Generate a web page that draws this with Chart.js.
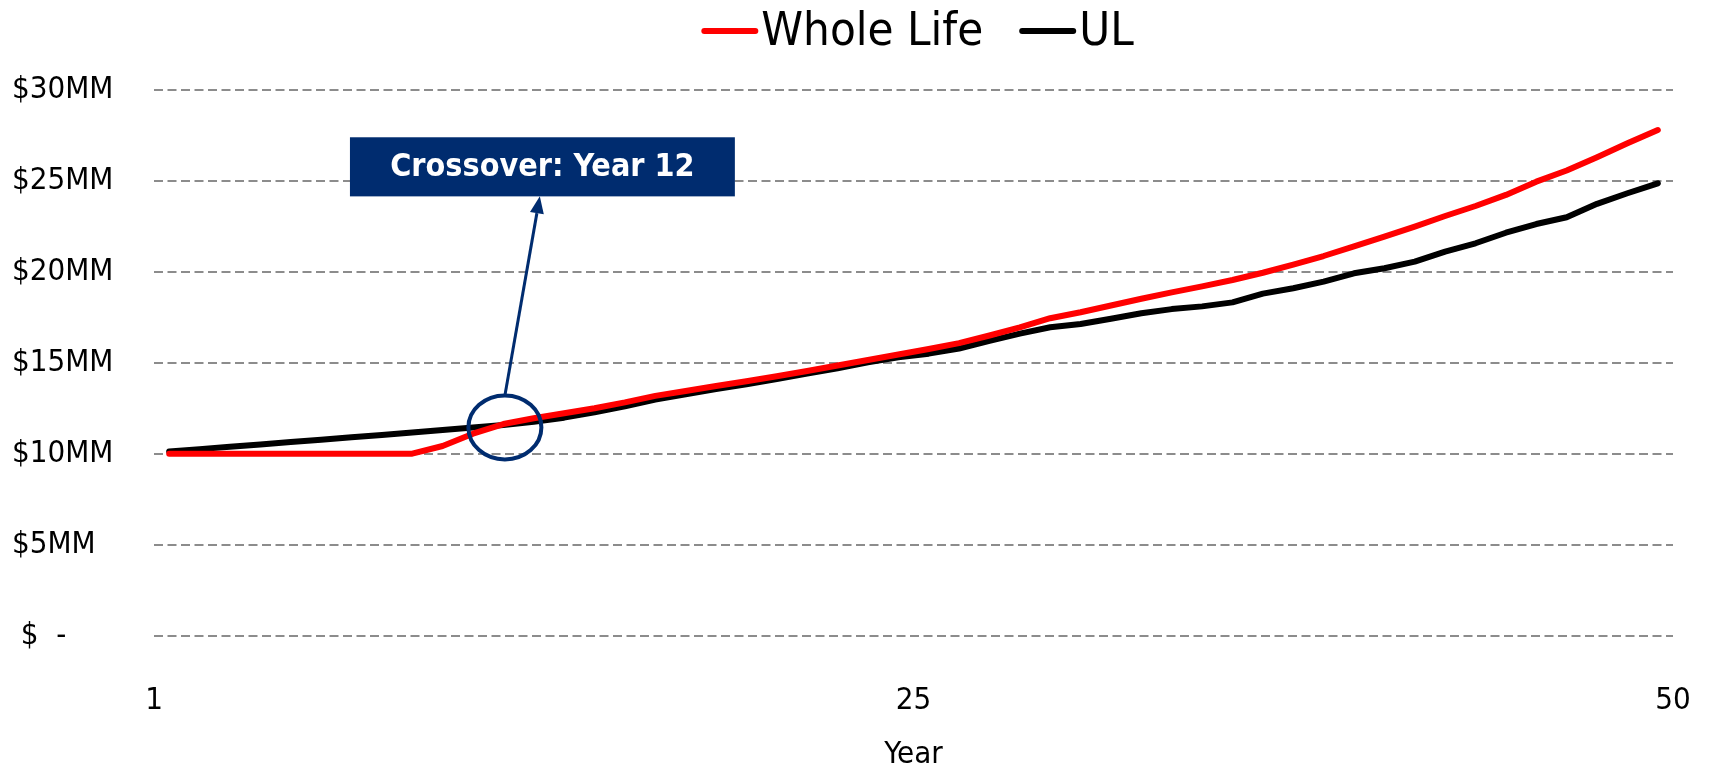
<!DOCTYPE html>
<html>
<head>
<meta charset="utf-8">
<title>Whole Life vs UL</title>
<script src="https://cdn.jsdelivr.net/npm/chart.js@4.4.1/dist/chart.umd.min.js"></script>
<style>
  html, body { margin: 0; padding: 0; background: #fff; }
  #wrap { width: 1712px; height: 769px; }
</style>
</head>
<body>
<div id="wrap"><canvas id="chartDeathBenefit"></canvas></div>
<script>
/* Beneficio por muerte: Whole Life vs UL, en millones */
const years = [1, 2, 3, 4, 5, 6, 7, 8, 9, 10,
  11, 12, 13, 14, 15, 16, 17, 18, 19, 20,
  21, 22, 23, 24, 25, 26, 27, 28, 29, 30,
  31, 32, 33, 34, 35, 36, 37, 38, 39, 40,
  41, 42, 43, 44, 45, 46, 47, 48, 49, 50];

const wholeLife = [10.0, 10.0, 10.0, 10.0, 10.0, 10.0, 10.0, 10.0, 10.0, 10.42,
  11.1, 11.63, 11.95, 12.22, 12.5, 12.82, 13.18, 13.45, 13.72, 13.98,
  14.26, 14.55, 14.85, 15.15, 15.45, 15.76, 16.08, 16.5, 16.95, 17.45,
  17.78, 18.15, 18.52, 18.87, 19.2, 19.55, 19.95, 20.4, 20.87, 21.4,
  21.94, 22.49, 23.07, 23.62, 24.23, 24.96, 25.57, 26.3, 27.07, 27.8];

const universalLife = [10.12, 10.25, 10.38, 10.51, 10.64, 10.77, 10.9, 11.03, 11.16, 11.3,
  11.44, 11.58, 11.76, 11.98, 12.27, 12.6, 12.98, 13.27, 13.55, 13.82,
  14.1, 14.4, 14.7, 15.02, 15.3, 15.5, 15.78, 16.2, 16.6, 16.95,
  17.13, 17.42, 17.72, 17.95, 18.1, 18.32, 18.8, 19.1, 19.46, 19.92,
  20.2, 20.56, 21.11, 21.57, 22.15, 22.63, 23.0, 23.74, 24.32, 24.87];

const seriesNames = ['Whole Life', 'UL'];
const yTickLabels = [' $  -', '$5MM', '$10MM', '$15MM', '$20MM', '$25MM', '$30MM'];
const xTickLabels = ['1', '25', '50'];
const xTickValues = [0.5, 25.5, 50.5]; // etiquetas en el borde de cada categoria

const crossoverYear = 12;
const crossoverText = 'Crossover: Year ' + crossoverYear;

const FONT = "'DejaVu Sans Condensed', 'DejaVu Sans', sans-serif";
const NAVY = '#002C6F';

/* Leyenda arriba: linea + texto pegado */
const topLegend = {
  id: 'topLegend',
  afterDraw(chart) {
    const ctx = chart.ctx;
    const area = chart.chartArea;
    const lineW = 57, gap = 3, itemGap = 36;
    ctx.save();
    ctx.font = '47px ' + FONT;
    let items = chart.data.datasets.map((ds) => ({
      text: ds.label, color: ds.borderColor, w: ctx.measureText(ds.label).width,
    }));
    let total = items.reduce((s, it) => s + lineW + gap + it.w, 0) + itemGap * (items.length - 1);
    let x = (area.left + area.right) / 2 + 4 - total / 2;
    let yMid = 32;
    items.forEach((it) => {
      ctx.strokeStyle = it.color;
      ctx.lineWidth = 6;
      ctx.lineCap = 'round';
      ctx.beginPath();
      ctx.moveTo(x + 3, yMid - 1);
      ctx.lineTo(x + lineW - 3, yMid - 1);
      ctx.stroke();
      ctx.fillStyle = '#000';
      ctx.textBaseline = 'middle';
      ctx.textAlign = 'left';
      ctx.fillText(it.text, x + lineW + gap, yMid + 1);
      x += lineW + gap + it.w + itemGap;
    });
    ctx.restore();
  },
};

/* Nota del cruce: elipse, flecha y recuadro */
const crossoverNote = {
  id: 'crossoverNote',
  afterDatasetsDraw(chart) {
    const { ctx, scales: { x, y } } = chart;
    const cx = x.getPixelForValue(12.05);
    const cy = y.getPixelForValue(11.44);
    const rx = 36.5, ry = 32;

    const boxL = x.getPixelForValue(6.95);
    const boxR = x.getPixelForValue(19.62);
    const boxT = y.getPixelForValue(27.4);
    const boxB = y.getPixelForValue(24.15);

    ctx.save();
    ctx.strokeStyle = NAVY;
    ctx.fillStyle = NAVY;
    ctx.lineWidth = 4;
    ctx.beginPath();
    ctx.ellipse(cx, cy, rx, ry, 0, 0, Math.PI * 2);
    ctx.stroke();

    // flecha
    let x0 = cx, y0 = cy - ry;
    let x1 = x.getPixelForValue(13.2), y1 = boxB;
    let ang = Math.atan2(y1 - y0, x1 - x0);
    let headLen = 17, headW = 7;
    let bx = x1 - headLen * Math.cos(ang), by = y1 - headLen * Math.sin(ang);
    ctx.lineWidth = 3;
    ctx.beginPath();
    ctx.moveTo(x0, y0);
    ctx.lineTo(bx, by);
    ctx.stroke();
    ctx.beginPath();
    ctx.moveTo(x1, y1);
    ctx.lineTo(bx + headW * Math.sin(ang), by - headW * Math.cos(ang));
    ctx.lineTo(bx - headW * Math.sin(ang), by + headW * Math.cos(ang));
    ctx.closePath();
    ctx.fill();

    ctx.fillRect(boxL, boxT, boxR - boxL, boxB - boxT);
    ctx.fillStyle = '#fff';
    ctx.font = 'bold 32px ' + FONT;
    ctx.textAlign = 'center';
    ctx.textBaseline = 'middle';
    ctx.fillText(crossoverText, (boxL + boxR) / 2, (boxT + boxB) / 2 + 1);
    ctx.restore();
  },
};

const toPoints = (vals) => vals.map((v, i) => ({ x: years[i], y: v }));

const ctx = document.getElementById('chartDeathBenefit').getContext('2d');
const myChart = new Chart(ctx, {
  type: 'line',
  plugins: [topLegend, crossoverNote],
  data: {
    datasets: [
      {
        label: seriesNames[0],
        data: toPoints(wholeLife),
        borderColor: '#FF0000',
        backgroundColor: '#FF0000',
        borderWidth: 6,
        pointRadius: 0,
        tension: 0,
        borderCapStyle: 'round',
        borderJoinStyle: 'round',
      },
      {
        label: seriesNames[1],
        data: toPoints(universalLife),
        borderColor: '#000000',
        backgroundColor: '#000000',
        borderWidth: 6,
        pointRadius: 0,
        tension: 0,
        borderCapStyle: 'round',
        borderJoinStyle: 'round',
      },
    ],
  },
  options: {
    responsive: true,
    maintainAspectRatio: false,
    animation: false,
    layout: {
      padding: { top: 90, left: 12, right: 39, bottom: 0 },
    },
    scales: {
      x: {
        type: 'linear',
        min: 0.5,
        max: 50.5,
        afterBuildTicks: (scale) => {
          scale.ticks = xTickValues.map((v) => ({ value: v }));
        },
        afterFit: (scale) => {
          scale.height = 769 - 635.5;
        },
        grid: { display: false, drawTicks: true, tickLength: 47 },
        border: { display: false },
        ticks: {
          autoSkip: false,
          maxRotation: 0,
          padding: 0,
          color: '#000',
          font: { family: FONT, size: 31 },
          callback: (value) => xTickLabels[xTickValues.indexOf(value)],
        },
        title: {
          display: true,
          text: 'Year',
          color: '#000',
          font: { family: FONT, size: 31, lineHeight: 0.9 },
          padding: { top: 0, bottom: 0 },
        },
      },
      y: {
        min: 0,
        max: 30,
        afterFit: (scale) => {
          scale.width = 154 - 12;
        },
        grid: {
          color: '#8C8C8C',
          lineWidth: 2,
          drawTicks: false,
        },
        border: { display: false, dash: [9, 4.5] },
        ticks: {
          stepSize: 5,
          crossAlign: 'far',
          color: '#000',
          font: { family: FONT, size: 31 },
          callback: (value) => yTickLabels[value / 5],
        },
      },
    },
    plugins: {
      legend: { display: false },
      tooltip: { enabled: false },
    },
  },
});
</script>
</body>
</html>
